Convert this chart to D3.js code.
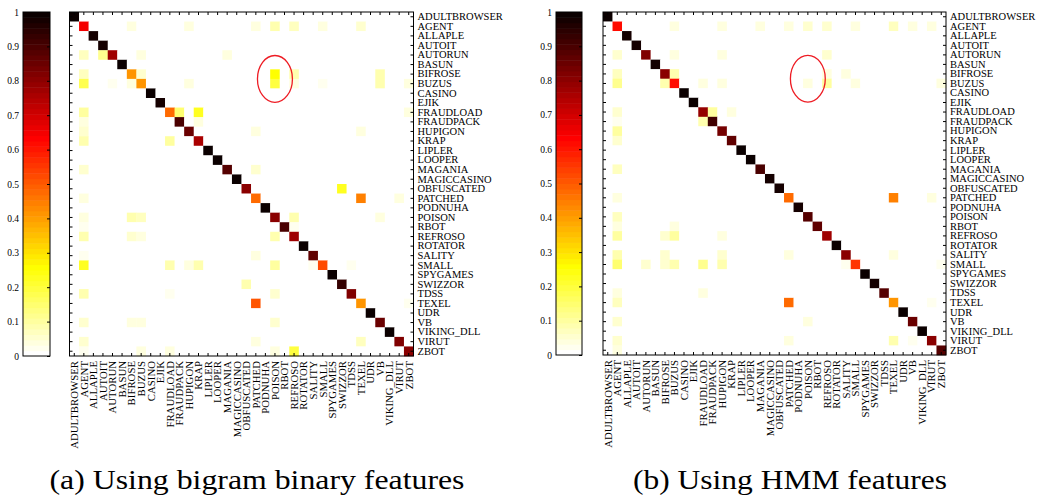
<!DOCTYPE html>
<meta charset="utf-8" />
<script src="https://d3js.org/d3.v7.min.js"></script>
<style>
  body { margin: 0; background: #fff; }
  svg { display: block; font-family: "Liberation Serif", "Times New Roman", serif; }
</style>
<div id="chart"></div>
<script>
  // class names (rows = true class, cols = predicted)
  const labels = ["ADULTBROWSER", "AGENT", "ALLAPLE", "AUTOIT", "AUTORUN", "BASUN", "BIFROSE", "BUZUS",
    "CASINO", "EJIK", "FRAUDLOAD", "FRAUDPACK", "HUPIGON", "KRAP", "LIPLER", "LOOPER", "MAGANIA",
    "MAGICCASINO", "OBFUSCATED", "PATCHED", "PODNUHA", "POISON", "RBOT", "REFROSO", "ROTATOR",
    "SALITY", "SMALL", "SPYGAMES", "SWIZZOR", "TDSS", "TEXEL", "UDR", "VB", "VIKING_DLL", "VIRUT", "ZBOT"];

  // (a) bigram binary features: diagonal + off-diagonal [row, col, value]
  const diagA = [1.0, 0.65, 0.98, 0.97, 0.78, 1.0, 0.42, 0.42, 1.0, 0.98, 0.48, 0.9, 0.85, 0.75, 1.0, 1.0,
    0.88, 1.0, 0.8, 0.47, 1.0, 0.8, 0.9, 0.77, 1.0, 0.87, 0.52, 1.0, 0.93, 0.82, 0.42, 1.0, 0.85, 1.0, 0.82, 0.8];
  const offA = [
    [1, 6, 0.04], [1, 12, 0.04], [1, 19, 0.04], [1, 21, 0.08], [1, 23, 0.07], [1, 26, 0.04], [1, 30, 0.05],
    [4, 1, 0.07], [4, 3, 0.12], [4, 7, 0.04], [4, 16, 0.04],
    [6, 1, 0.07], [6, 7, 0.05], [6, 21, 0.25], [6, 23, 0.08], [6, 32, 0.08],
    [7, 1, 0.18], [7, 4, 0.03], [7, 6, 0.04], [7, 12, 0.04], [7, 21, 0.2], [7, 23, 0.04], [7, 26, 0.03],
    [7, 32, 0.08], [7, 35, 0.04],
    [10, 1, 0.1], [10, 11, 0.15], [10, 13, 0.22], [10, 35, 0.04],
    [11, 1, 0.04], [11, 13, 0.04],
    [12, 1, 0.05], [12, 19, 0.04], [12, 30, 0.04],
    [13, 1, 0.08], [13, 10, 0.1],
    [16, 1, 0.05], [16, 19, 0.05],
    [18, 28, 0.22],
    [19, 1, 0.04], [19, 30, 0.45], [19, 34, 0.04],
    [21, 1, 0.04], [21, 6, 0.08], [21, 7, 0.07], [21, 23, 0.08], [21, 32, 0.04],
    [22, 1, 0.03], [22, 23, 0.03],
    [23, 1, 0.08], [23, 6, 0.06], [23, 7, 0.04], [23, 21, 0.08],
    [25, 1, 0.03], [25, 19, 0.04],
    [26, 1, 0.22], [26, 10, 0.08], [26, 12, 0.04], [26, 13, 0.08], [26, 21, 0.1], [26, 25, 0.03], [26, 29, 0.03],
    [28, 18, 0.08],
    [29, 1, 0.08], [29, 10, 0.03], [29, 21, 0.06],
    [30, 19, 0.5], [30, 35, 0.03],
    [32, 1, 0.06], [32, 6, 0.04], [32, 7, 0.04], [32, 21, 0.05],
    [34, 1, 0.05], [34, 19, 0.04], [34, 30, 0.07],
    [35, 1, 0.03], [35, 7, 0.04], [35, 10, 0.04], [35, 21, 0.04], [35, 23, 0.2]
  ];

  // (b) HMM features
  const diagB = [1.0, 0.62, 0.98, 0.98, 0.82, 0.98, 0.8, 0.62, 0.99, 0.99, 0.79, 0.91, 0.84, 0.86, 1.0, 1.0,
    0.9, 0.97, 0.97, 0.47, 0.98, 0.88, 0.87, 0.78, 1.0, 0.8, 0.56, 1.0, 0.98, 0.88, 0.42, 1.0, 0.85, 1.0, 0.8, 0.88];
  const offB = [
    [1, 7, 0.04], [1, 12, 0.04], [1, 16, 0.04], [1, 19, 0.04], [1, 21, 0.05], [1, 23, 0.05], [1, 26, 0.04],
    [1, 30, 0.07], [1, 32, 0.04], [1, 34, 0.04],
    [4, 1, 0.05], [4, 7, 0.04], [4, 12, 0.04], [4, 23, 0.05],
    [6, 1, 0.07], [6, 7, 0.08], [6, 23, 0.04], [6, 25, 0.04],
    [7, 1, 0.12], [7, 6, 0.08], [7, 10, 0.04], [7, 12, 0.04], [7, 21, 0.04], [7, 23, 0.1], [7, 26, 0.04], [7, 35, 0.04],
    [10, 1, 0.05], [10, 11, 0.1], [10, 13, 0.04],
    [11, 1, 0.03], [11, 10, 0.08],
    [12, 1, 0.1],
    [13, 1, 0.05],
    [16, 1, 0.07],
    [19, 1, 0.04], [19, 30, 0.44], [19, 34, 0.04],
    [21, 1, 0.07],
    [22, 1, 0.04], [22, 7, 0.04],
    [23, 1, 0.1], [23, 6, 0.05], [23, 7, 0.1], [23, 12, 0.04],
    [25, 1, 0.08], [25, 6, 0.05], [25, 12, 0.05], [25, 19, 0.04], [25, 30, 0.04],
    [26, 1, 0.15], [26, 4, 0.05], [26, 6, 0.05], [26, 7, 0.08], [26, 10, 0.12], [26, 12, 0.08], [26, 25, 0.03], [26, 35, 0.03],
    [29, 1, 0.04], [29, 10, 0.04],
    [30, 1, 0.07], [30, 19, 0.47], [30, 34, 0.03],
    [32, 1, 0.06], [32, 21, 0.04],
    [34, 1, 0.06], [34, 19, 0.04], [34, 30, 0.08], [34, 32, 0.03],
    [35, 1, 0.04]
  ];

  const cbTicks = [0, 0.1, 0.2, 0.3, 0.4, 0.5, 0.6, 0.7, 0.8, 0.9, 1];
  const cbTickLabels = ["0", "0.1", "0.2", "0.3", "0.4", "0.5", "0.6", "0.7", "0.8", "0.9", "1"];
  const captions = ["(a) Using bigram binary features", "(b) Using HMM features"];

  // flipped MATLAB "hot" colormap, 64 levels
  const nLevels = 64;
  function hotFlip(k) {
    const r = nLevels - 1 - k;
    const R = Math.min(1, (r + 1) / 24);
    const G = Math.max(0, Math.min(1, (r + 1 - 24) / 24));
    const B = Math.max(0, Math.min(1, (r + 1 - 48) / 16));
    return d3.rgb(R * 255, G * 255, B * 255).toString();
  }
  const levelColors = d3.range(nLevels).map(hotFlip);
  const color = d3.scaleQuantize().domain([0, 1]).range(levelColors);

  function buildMatrix(diag, off) {
    const cells = [];
    labels.forEach((rl, i) => labels.forEach((cl, j) => cells.push({ row: rl, col: cl, value: 0 })));
    diag.forEach((v, i) => { cells[i * labels.length + i].value = v; });
    off.forEach(([i, j, v]) => { cells[i * labels.length + j].value = v; });
    return cells;
  }

  const W = 1041, H = 497;
  const svg = d3.select("#chart").append("svg").attr("width", W).attr("height", H);

  const panels = [
    { left: 69.5, top: 12, size: 344, cbX: 23, cbW: 27, cells: buildMatrix(diagA, offA), cap: captions[0], capX: 257, capW: 415 },
    { left: 603, top: 12, size: 343, cbX: 556, cbW: 26, cells: buildMatrix(diagB, offB), cap: captions[1], capX: 790, capW: 314 }
  ];

  panels.forEach(p => {
    const g = svg.append("g");
    const x = d3.scaleBand().domain(labels).range([p.left, p.left + p.size]);
    const y = d3.scaleBand().domain(labels).range([p.top, p.top + p.size]);

    // colorbar
    const cy = d3.scaleLinear().domain([0, 1]).range([p.top + p.size, p.top]);
    g.append("g").selectAll("rect").data(levelColors).join("rect")
      .attr("x", p.cbX).attr("width", p.cbW)
      .attr("y", (c, k) => cy((k + 1) / nLevels))
      .attr("height", cy(0) - cy(1 / nLevels) + 0.5)
      .attr("fill", c => c);
    g.append("rect").attr("x", p.cbX).attr("y", p.top).attr("width", p.cbW).attr("height", p.size)
      .attr("fill", "none").attr("stroke", "#000").attr("stroke-width", 1);
    const cbAxisR = g.append("g").attr("transform", `translate(${p.cbX + p.cbW},0)`)
      .call(d3.axisLeft(cy).tickValues(cbTicks).tickSize(3).tickFormat(""));
    cbAxisR.select(".domain").remove();
    const cbAxisL = g.append("g").attr("transform", `translate(${p.cbX},0)`)
      .call(d3.axisLeft(cy).tickValues(cbTicks).tickSize(0).tickPadding(4)
        .tickFormat((d, i) => cbTickLabels[i]));
    cbAxisL.select(".domain").remove();
    cbAxisL.selectAll("text").style("font-family", "Liberation Serif, serif").style("font-size", "9.5px");

    // cells
    g.append("g").selectAll("rect").data(p.cells).join("rect")
      .attr("x", d => x(d.col)).attr("y", d => y(d.row))
      .attr("width", x.bandwidth() + 0.3).attr("height", y.bandwidth() + 0.3)
      .attr("fill", d => color(d.value));

    // axes (ticks inward)
    const tk = 3;
    const top = g.append("g").attr("transform", `translate(0,${p.top})`)
      .call(d3.axisTop(x).tickSize(-tk).tickFormat(""));
    const bottom = g.append("g").attr("transform", `translate(0,${p.top + p.size})`)
      .call(d3.axisBottom(x).tickSize(-tk).tickPadding(4));
    const leftAx = g.append("g").attr("transform", `translate(${p.left},0)`)
      .call(d3.axisLeft(y).tickSize(-tk).tickFormat(""));
    const rightAx = g.append("g").attr("transform", `translate(${p.left + p.size},0)`)
      .call(d3.axisRight(y).tickSize(-tk).tickPadding(4));
    [top, bottom, leftAx, rightAx].forEach(a => a.select(".domain").remove());
    rightAx.selectAll("text").style("font-family", "Liberation Serif, serif").style("font-size", "10.5px");
    bottom.selectAll("text")
      .style("font-family", "Liberation Serif, serif").style("font-size", "10.8px")
      .attr("transform", "rotate(-90)")
      .attr("x", -5).attr("y", 0).attr("dy", "0.35em")
      .style("text-anchor", "end");
    g.append("rect").attr("x", p.left).attr("y", p.top).attr("width", p.size).attr("height", p.size)
      .attr("fill", "none").attr("stroke", "#000").attr("stroke-width", 1);

    // highlight ellipse around the POISON column between BIFROSE and BUZUS
    g.append("ellipse")
      .attr("cx", x("POISON") + x.bandwidth() / 2)
      .attr("cy", y("BUZUS"))
      .attr("rx", x.bandwidth() * 1.83)
      .attr("ry", y.bandwidth() * 2.45)
      .attr("fill", "none").attr("stroke", "#ee1c24").attr("stroke-width", 1.3);

    // caption
    svg.append("text").attr("x", p.capX).attr("y", 489)
      .attr("text-anchor", "middle")
      .attr("textLength", p.capW).attr("lengthAdjust", "spacingAndGlyphs")
      .style("font-family", "Liberation Serif, serif").style("font-size", "27px")
      .text(p.cap);
  });
</script>
